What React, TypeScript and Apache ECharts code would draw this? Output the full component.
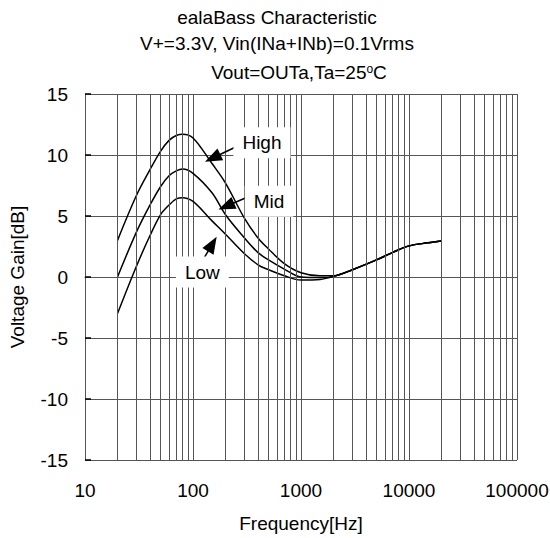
import React, { useEffect, useRef } from "react";
import * as echarts from "echarts";

const FONT = "'Liberation Sans', Arial, Helvetica, sans-serif";

// Frequency points (Hz) and gains (dB)
const frequencies = [20, 30, 40, 50, 60, 70, 80, 100, 150, 200, 300, 400, 500, 700, 1000, 1500, 2000, 3000, 5000, 7000, 10000, 15000, 20000];
const highGain = [3.0, 6.7, 8.8, 10.3, 11.2, 11.6, 11.7, 11.4, 9.3, 7.7, 4.8, 3.2, 2.3, 1.1, 0.35, 0.1, 0.1, 0.6, 1.4, 2.0, 2.55, 2.8, 2.95];
const midGain = [0.0, 3.7, 5.9, 7.4, 8.3, 8.7, 8.85, 8.5, 6.9, 5.1, 3.2, 2.0, 1.4, 0.65, 0.0, -0.05, 0.05, 0.6, 1.4, 2.0, 2.55, 2.8, 2.95];
const lowGain = [-3.0, 0.9, 3.4, 5.1, 5.9, 6.4, 6.5, 6.2, 4.6, 3.5, 1.9, 1.0, 0.6, 0.1, -0.25, -0.2, 0.05, 0.6, 1.4, 2.0, 2.55, 2.8, 2.95];

const seriesNames = ["High", "Mid", "Low"];
const seriesGains = [highGain, midGain, lowGain];

// Axis ticks
const xMin = 10;
const xMax = 100000;
const yMin = -15;
const yMax = 15;
const yInterval = 5;

// Minor (2..9) vertical grid positions of each decade
const decades = [10, 100, 1000, 10000];
const minorMultipliers = [2, 3, 4, 5, 6, 7, 8, 9];

// Annotation labels and arrows (data coordinates)
const labelFreq = [435, 506, 122];
const labelGain = [11.0, 6.2, 0.4];
const arrowStartFreq = [254, 337, 126];
const arrowStartGain = [10.7, 6.64, 1.53];
const arrowEndFreq = [152, 203, 151];
const arrowEndGain = [9.75, 5.8, 2.7];

export default function App() {
  const ref = useRef<HTMLDivElement>(null);

  useEffect(() => {
    if (!ref.current) return;
    const chart = echarts.init(ref.current, null, { renderer: "svg" });

    const minorFreqs: number[] = [];
    decades.forEach((d) => minorMultipliers.forEach((m) => minorFreqs.push(d * m)));

    const gridColor = "#555";

    const curveSeries = seriesNames.map((name, i) => ({
      name,
      type: "line",
      z: 3,
      data: frequencies.map((f, j) => [f, seriesGains[i][j]]),
      showSymbol: false,
      symbol: "none",
      smooth: 0.35,
      lineStyle: { color: "#000", width: 1.5 },
      silent: true,
    }));

    const option: any = {
      animation: false,
      backgroundColor: "#fff",
      textStyle: { fontFamily: FONT },
      graphic: [
        {
          type: "text",
          x: 277,
          y: 17,
          style: { text: "ealaBass Characteristic", fontSize: 19, fontFamily: FONT, fill: "#000", align: "center", verticalAlign: "middle" },
        },
        {
          type: "text",
          x: 277,
          y: 43,
          style: { text: "V+=3.3V, Vin(INa+INb)=0.1Vrms", fontSize: 19, fontFamily: FONT, fill: "#000", align: "center", verticalAlign: "middle" },
        },
        {
          type: "text",
          x: 299,
          y: 72,
          style: {
            text: "Vout=OUTa,Ta=25{sup|o}C",
            fontSize: 19,
            fontFamily: FONT,
            fill: "#000",
            align: "center",
            verticalAlign: "middle",
            rich: { sup: { fontSize: 12, fontFamily: FONT, fill: "#000", verticalAlign: "top" } },
          },
        },
      ],
      grid: { left: 85, right: 33, top: 94, bottom: 78, containLabel: false, outerBoundsMode: "none" },
      xAxis: {
        type: "log",
        logBase: 10,
        min: xMin,
        max: xMax,
        name: "Frequency[Hz]",
        nameLocation: "middle",
        nameGap: 54,
        nameTextStyle: { fontSize: 19, color: "#000", fontFamily: FONT },
        axisLine: { show: true, lineStyle: { color: gridColor, width: 1 } },
        axisTick: { show: false },
        minorTick: { show: false },
        axisLabel: {
          margin: 21,
          fontSize: 19,
          color: "#000",
          fontFamily: FONT,
          formatter: (v: number) => String(Math.round(v)),
        },
        splitLine: { show: true, lineStyle: { color: gridColor, width: 1 } },
      },
      yAxis: {
        type: "value",
        min: yMin,
        max: yMax,
        interval: yInterval,
        name: "Voltage Gain[dB]",
        nameLocation: "middle",
        nameGap: 58,
        nameTextStyle: { fontSize: 19, color: "#000", fontFamily: FONT },
        axisLine: { show: true, lineStyle: { color: gridColor, width: 1 } },
        axisTick: { show: true, inside: true, length: 6, lineStyle: { color: "#000", width: 1.5 } },
        axisLabel: { margin: 17, fontSize: 19, color: "#000", fontFamily: FONT },
        splitLine: { show: true, lineStyle: { color: gridColor, width: 1 } },
      },
      series: [
        {
          name: "grid",
          type: "line",
          z: 1,
          data: [],
          silent: true,
          markLine: {
            silent: true,
            symbol: ["none", "none"],
            label: { show: false },
            lineStyle: { color: gridColor, width: 1, type: "solid" },
            data: minorFreqs.map((f) => ({ xAxis: f })),
          },
        },
        ...curveSeries,
        {
          name: "annotations",
          type: "line",
          z: 5,
          data: [],
          silent: true,
          markLine: {
            silent: true,
            symbol: ["none", "triangle"],
            label: { show: false },
            lineStyle: { color: "#000", width: 1.5, type: "solid" },
            data: seriesNames.map((_, i) => [
              { coord: [arrowStartFreq[i], arrowStartGain[i]], symbol: "none" },
              { coord: [arrowEndFreq[i], arrowEndGain[i]], symbol: "triangle", symbolSize: [13, 17] },
            ]),
          },
          markPoint: {
            silent: true,
            symbol: "rect",
            symbolSize: 1,
            itemStyle: { color: "rgba(0,0,0,0)" },
            label: {
              show: true,
              position: "inside",
              formatter: "{b}",
              fontSize: 19,
              fontFamily: FONT,
              color: "#000",
              backgroundColor: "#fff",
              padding: [6, 9],
            },
            data: seriesNames.map((name, i) => ({ name, coord: [labelFreq[i], labelGain[i]] })),
          },
        },
      ],
    };

    chart.setOption(option);
    return () => chart.dispose();
  }, []);

  return (
    <div
      ref={ref}
      style={{ position: "absolute", left: 0, top: 0, width: 550, height: 538 }}
    />
  );
}
